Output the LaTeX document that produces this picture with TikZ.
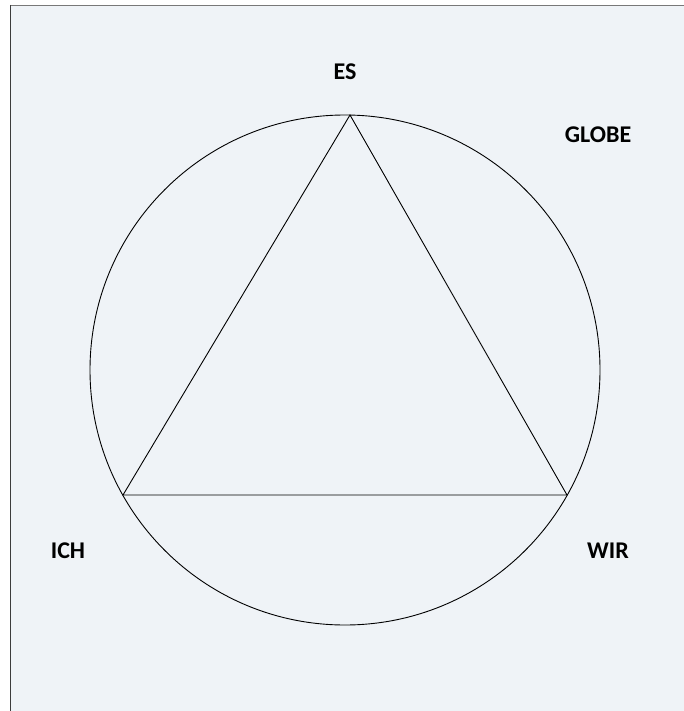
\documentclass[tikz,border=0pt]{standalone}
\usepackage{fontspec}
\setmainfont{Carlito}
\definecolor{bgfill}{RGB}{239,243,247}
\definecolor{topline}{RGB}{120,120,120}
\definecolor{leftline}{RGB}{60,60,60}
\begin{document}
\begin{tikzpicture}[x=1pt,y=-1pt,
  lbl/.style={font=\fontsize{24}{28}\selectfont\bfseries, inner sep=0pt},
  figline/.style={draw=black, line width=0.9pt}]
\useasboundingbox (0,0) rectangle (684,711);
\fill[white] (0,0) rectangle (684,711);
\fill[bgfill] (10,5) rectangle (684,711);
\draw[topline, line width=1.5pt] (10,5.5) -- (684,5.5);
\draw[leftline, line width=1.8pt] (10.5,5) -- (10.5,711);
\coordinate (ctr) at (345,370);
\draw[figline] (ctr) circle (255);
\coordinate (top) at (350,115);
\coordinate (bl) at (123,495);
\coordinate (br) at (567,495);
\draw[figline, line join=miter] (top) -- (bl) -- (br) -- cycle;
\node[lbl] (es) at (345,72) {ES};
\node[lbl] (globe) at (598,135) {GLOBE};
\node[lbl] (ich) at (68,551) {ICH};
\node[lbl] (wir) at (608,551) {WIR};
\end{tikzpicture}
\end{document}
